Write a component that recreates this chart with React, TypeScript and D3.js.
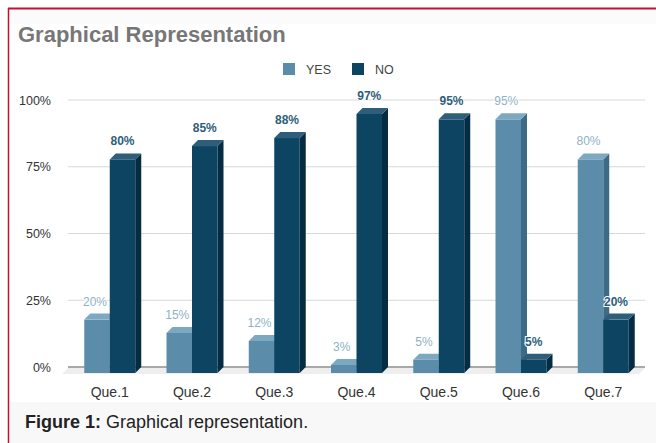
import React from "react";
import * as d3 from "d3";

const categories = ["Que.1", "Que.2", "Que.3", "Que.4", "Que.5", "Que.6", "Que.7"];
const yesValues = [20, 15, 12, 3, 5, 95, 80];
const noValues = [80, 85, 88, 97, 95, 5, 20];
const yTicks = [0, 25, 50, 75, 100];
const seriesNames = ["YES", "NO"];

const W = 656,
	H = 443;

// face colours for the fake 3d bars: front, side, top
const palette = {
	YES: { front: "#5b8dab", side: "#3d6a84", top: "#7da8c1", label: "#8fb2c7" },
	NO: { front: "#0c4462", side: "#052c42", top: "#2e5e79", label: "#2f5e7b" },
};

const dx = 6,
	dy = 6;

const Bar3D = ({ x, w, yTop, y0, c }) => {
	const top = `${x},${yTop + dy} ${x + dx},${yTop} ${x + w + dx},${yTop} ${x + w},${yTop + dy}`;
	const side = `${x + w},${yTop + dy} ${x + w + dx},${yTop} ${x + w + dx},${y0} ${x + w},${y0 + dy}`;
	return (
		<g>
			<polygon points={side} fill={c.side} />
			<rect x={x} y={yTop + dy} width={w} height={Math.max(0, y0 - yTop)} fill={c.front} />
			<polygon points={top} fill={c.top} />
		</g>
	);
};

const App = () => {
	const y = d3.scaleLinear().domain([0, 100]).range([367, 100]);
	const x0 = d3.scaleBand().domain(categories).range([53, 660]).padding(0.38);
	const x1 = d3.scaleBand().domain(seriesNames).range([0, x0.bandwidth()]);

	const gridX1 = 68,
		gridX2 = 645;

	const series = [
		{ name: "YES", values: yesValues },
		{ name: "NO", values: noValues },
	];

	return (
		<div style={{ position: "absolute", left: 0, top: 0 }}>
			<svg width={W} height={H} style={{ display: "block", fontFamily: "'Liberation Sans', Arial, sans-serif" }}>
				<rect width={W} height={H} fill="#ffffff" />
				<rect x={10} y={10} width={W - 10} height={14} fill="#fbfbfb" />
				<rect x={10} y={402} width={W - 10} height={H - 402} fill="#f8f8f8" />
				<line x1={8} x2={W} y1={8.5} y2={8.5} stroke="#c8102e" strokeWidth={2} />
				<line x1={8.5} x2={8.5} y1={8} y2={H} stroke="#c8102e" strokeWidth={1.5} />

				<text x={18} y={42} fontSize={22} fontWeight="bold" fill="#777">
					Graphical Representation
				</text>

				{/* legend */}
				{seriesNames.map((s, i) => {
					const lx = [283, 352][i];
					return (
						<g key={s}>
							<rect x={lx} y={63} width={12} height={12} fill={palette[s].front} />
							<text x={lx + 23} y={74} fontSize={12.5} fill="#444">
								{s}
							</text>
						</g>
					);
				})}

				{/* grid */}
				{yTicks.map((t) => (
					<g key={t}>
						<line
							x1={gridX1}
							x2={gridX2}
							y1={y(t)}
							y2={y(t)}
							stroke={t === 0 ? "#555" : "#d8d8d8"}
							strokeWidth={t === 0 ? 1.2 : 1}
						/>
						<text x={51} y={y(t) + 4.5} fontSize={12.5} textAnchor="end" fill="#333">
							{t + "%"}
						</text>
					</g>
				))}
				<polygon
					points={`${gridX1},${y(0) + 1} ${gridX2},${y(0) + 1} ${gridX2 - 6},${y(0) + 7} ${gridX1 - 6},${y(0) + 7}`}
					fill="#eeeeee"
				/>

				{/* bars */}
				{categories.map((cat, i) => (
					<g key={cat}>
						{series.map((s) => {
							const bx = x0(cat) + x1(s.name);
							return (
								<Bar3D
									key={s.name}
									x={bx}
									w={x1.bandwidth()}
									yTop={y(s.values[i])}
									y0={y(0)}
									c={palette[s.name]}
								/>
							);
						})}
						{series.map((s) => {
							const bx = x0(cat) + x1(s.name);
							return (
								<text
									key={s.name + "l"}
									x={bx + x1.bandwidth() / 2 + (s.name === "YES" ? -2 : 0)}
									y={y(s.values[i]) - 8}
									fontSize={12}
									fontWeight={s.name === "NO" ? "bold" : "normal"}
									textAnchor="middle"
									fill={palette[s.name].label}
									stroke="#fff"
									strokeWidth={2}
									paintOrder="stroke"
								>
									{s.values[i] + "%"}
								</text>
							);
						})}
						<text x={x0(cat) + x0.bandwidth() / 2} y={397} fontSize={14} textAnchor="middle" fill="#333">
							{cat}
						</text>
					</g>
				))}

				<text x={25} y={428} fontSize={18} fill="#222">
					<tspan fontWeight="bold">Figure 1:</tspan> Graphical representation.
				</text>
			</svg>
		</div>
	);
};

export default App;
